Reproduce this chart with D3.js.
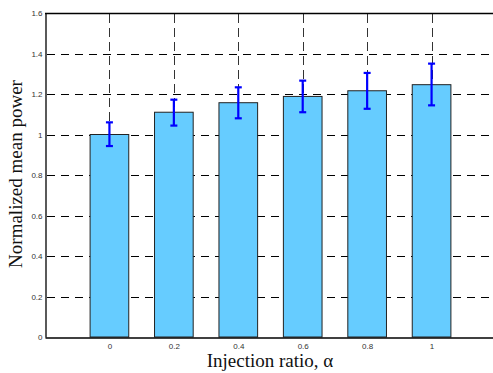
<!DOCTYPE html>
<html><head><meta charset="utf-8">
<script src="https://cdn.jsdelivr.net/npm/d3@7"></script>
<style>body{margin:0;background:#fff}</style>
</head><body>
<svg id="c" width="493" height="373"></svg>
<script>
const categories = [0, 0.2, 0.4, 0.6, 0.8, 1];
const categoryLabels = ["0", "0.2", "0.4", "0.6", "0.8", "1"];
const meanPower = [1.0, 1.11, 1.157, 1.188, 1.216, 1.246];
const errLow = [0.943, 1.044, 1.080, 1.110, 1.127, 1.144];
const errHigh = [1.060, 1.172, 1.233, 1.266, 1.304, 1.350];
const yTicks = [0, 0.2, 0.4, 0.6, 0.8, 1, 1.2, 1.4, 1.6];
const yTickLabels = ["0", "0.2", "0.4", "0.6", "0.8", "1", "1.2", "1.4", "1.6"];

const svg = d3.select("#c");
const L = 45, T = 13, B = 337, R = 496;
const x = d3.scaleLinear().domain([-0.2, 1.2]).range([L, R]);
const y = d3.scaleLinear().domain([0, 1.6]).range([B, T]);
const bw = (x(0.2) - x(0)) * 0.6;

const g = svg.append("g");
// grid
g.selectAll(".hg").data(yTicks.filter(v => v > 0 && v < 1.6)).enter().append("line")
  .attr("x1", L + 2).attr("x2", R).attr("y1", d => Math.round(y(d)) + 0.5).attr("y2", d => Math.round(y(d)) + 0.5)
  .attr("stroke", "#000").attr("stroke-width", 1).attr("stroke-dasharray", "8,6");
g.selectAll(".vg").data(categories).enter().append("line")
  .attr("x1", d => Math.round(x(d)) + 0.5).attr("x2", d => Math.round(x(d)) + 0.5)
  .attr("y1", T + 1).attr("y2", B)
  .attr("stroke", "#333").attr("stroke-width", 1).attr("stroke-dasharray", "9,5");

// bars
g.selectAll(".bar").data(categories).enter().append("rect")
  .attr("x", (d) => x(d) - bw / 2).attr("width", bw)
  .attr("y", (d, i) => y(meanPower[i])).attr("height", (d, i) => B - y(meanPower[i]))
  .attr("fill", "#66ccff").attr("stroke", "#222").attr("stroke-width", 1);

// error bars
const eb = g.selectAll(".eb").data(categories).enter().append("g").attr("stroke", "#0000ff").attr("stroke-width", 2.2);
eb.append("line").attr("x1", d => x(d)).attr("x2", d => x(d))
  .attr("y1", (d, i) => y(errLow[i])).attr("y2", (d, i) => y(errHigh[i]));
eb.append("line").attr("x1", d => x(d) - 3.5).attr("x2", d => x(d) + 3.5)
  .attr("y1", (d, i) => y(errLow[i])).attr("y2", (d, i) => y(errLow[i]));
eb.append("line").attr("x1", d => x(d) - 3.5).attr("x2", d => x(d) + 3.5)
  .attr("y1", (d, i) => y(errHigh[i])).attr("y2", (d, i) => y(errHigh[i]));

// axes
const yAxis = d3.axisLeft(y).tickValues(yTicks).tickFormat((d, i) => yTickLabels[i]).tickSize(0).tickPadding(3);
const ya = svg.append("g").attr("transform", `translate(${L + 0.5},0)`).call(yAxis);
const xAxis = d3.axisBottom(x).tickValues(categories).tickFormat((d, i) => categoryLabels[i]).tickSize(0).tickPadding(6);
const xa = svg.append("g").attr("transform", `translate(0,${B + 0.5})`).call(xAxis);
[ya, xa].forEach(a => {
  a.select(".domain").attr("stroke", "#000").attr("stroke-width", 1.3);
  a.selectAll("text").attr("font-family", "Liberation Sans, Arial, sans-serif").attr("font-size", 8).attr("fill", "#333");
});
// top border
svg.append("line").attr("x1", L).attr("x2", R).attr("y1", T + 0.5).attr("y2", T + 0.5).attr("stroke", "#000").attr("stroke-width", 1.3);

// titles
svg.append("text").attr("x", 270).attr("y", 367).attr("text-anchor", "middle")
  .attr("font-family", "Liberation Serif, Times New Roman, serif").attr("font-size", 19).attr("fill", "#111")
  .text("Injection ratio, α");
svg.append("text").attr("transform", "translate(22,174) rotate(-90)").attr("text-anchor", "middle")
  .attr("font-family", "Liberation Serif, Times New Roman, serif").attr("font-size", 19).attr("fill", "#111")
  .text("Normalized mean power");
</script>
</body></html>
